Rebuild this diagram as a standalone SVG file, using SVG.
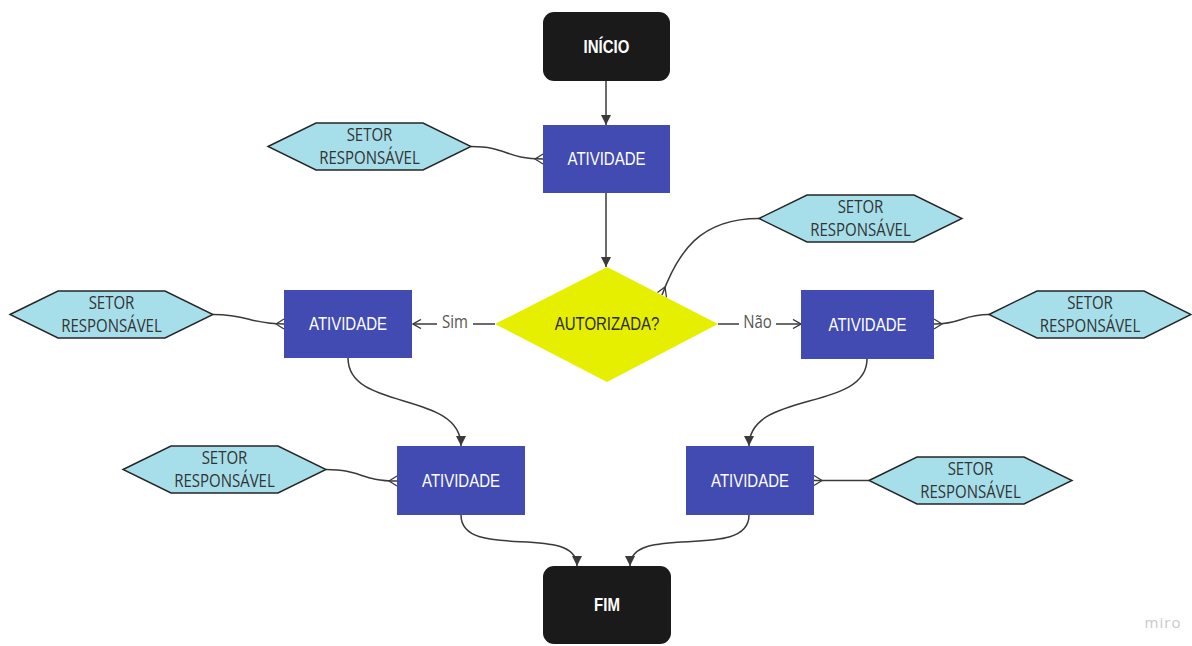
<svg xmlns="http://www.w3.org/2000/svg" width="1192" height="646" viewBox="0 0 1192 646">
  <style>
    .terminal { fill: #1a1a1a; }
    .activity { fill: #414bb2; }
    .decision { fill: #e6ef00; }
    .sector { fill: #a6dfea; stroke: #262626; stroke-width: 1.4; stroke-linejoin: miter; }
    .flow { fill: none; stroke: #3a3a3a; stroke-width: 1.5; }
    .foot { fill: none; stroke: #3a3a3a; stroke-width: 1.3; }
    .lbl-white { font-family: "Liberation Sans", Arial, sans-serif; font-size: 15px; fill: #ffffff; }
    .lbl-bold { font-family: "Liberation Sans", Arial, sans-serif; font-size: 15px; font-weight: bold; fill: #ffffff; }
    .lbl-dark { font-family: "Liberation Sans", Arial, sans-serif; font-size: 15px; fill: #2b2b2b; }
    .lbl-sector { font-family: "Open Sans", "Noto Sans", sans-serif; font-size: 15px; fill: #333333; }
    .lbl-edge { font-family: "Open Sans", "Noto Sans", sans-serif; font-size: 15px; fill: #555555; }
    text { text-anchor: middle; }
  </style>
  <defs>
    <marker id="arrow" viewBox="0 0 10 10" refX="10" refY="5" markerWidth="10" markerHeight="10" markerUnits="userSpaceOnUse" orient="auto">
      <path d="M0,0 L10,5 L0,10 Z" fill="#3a3a3a"/>
    </marker>
    <marker id="open" viewBox="0 0 10 10" refX="9" refY="5" markerWidth="10" markerHeight="10" markerUnits="userSpaceOnUse" orient="auto">
      <path d="M1,0.5 L9,5 L1,9.5" fill="none" stroke="#3a3a3a" stroke-width="1.4"/>
    </marker>
  </defs>

  <rect width="1192" height="646" fill="#ffffff"/>

  <!-- connectors -->
  <g id="connectors">
    <!-- main flow -->
    <path class="flow" d="M606,81 L606,125" marker-end="url(#arrow)"/>
    <path class="flow" d="M606,193 L606,267" marker-end="url(#arrow)"/>
    <path class="flow" d="M495,324 L473,324"/>
    <path class="flow" d="M437,324 L413,324" marker-end="url(#open)"/>
    <path class="flow" d="M718,324 L739,324"/>
    <path class="flow" d="M776,324 L801,324" marker-end="url(#open)"/>
    <path class="flow" d="M348,358 C348,412 461,390 461,446" marker-end="url(#arrow)"/>
    <path class="flow" d="M867,359 C867,412 749,390 749,446" marker-end="url(#arrow)"/>
    <path class="flow" d="M461,515 C461,562 577,522 577,566" marker-end="url(#arrow)"/>
    <path class="flow" d="M749,515 C749,562 630,522 630,566" marker-end="url(#arrow)"/>

    <!-- sector links with crow's foot at the activity end -->
    <path class="flow" d="M471,146.5 C508,146.5 505,159 543,159"/>
    <path class="foot" d="M543,154 L535,159 L543,164"/>

    <path class="flow" d="M759,218.5 C700,218.5 678,252 662,295"/>
    <path class="foot" d="M657.5,292.5 L665,287 L666.5,297.3"/>

    <path class="flow" d="M213,314.5 C250,314.5 248,324 284,324"/>
    <path class="foot" d="M284,319 L276,324 L284,329"/>

    <path class="flow" d="M934,324 C962,324 962,314.5 989,314.5"/>
    <path class="foot" d="M934,319 L942,324 L934,329"/>

    <path class="flow" d="M326,469.5 C362,469.5 360,481 397,481"/>
    <path class="foot" d="M397,476 L389,481 L397,486"/>

    <path class="flow" d="M814,480.5 L869,480.5"/>
    <path class="foot" d="M814,475.5 L822,480.5 L814,485.5"/>

    <text class="lbl-edge" transform="translate(455,327.5) scale(1,1.17)">Sim</text>
    <text class="lbl-edge" transform="translate(757.5,327.5) scale(1,1.17)">Não</text>
  </g>

  <!-- start / end -->
  <g id="inicio">
    <rect class="terminal" x="543" y="12" width="127" height="69" rx="11"/>
    <text class="lbl-bold" transform="translate(606.5,52.8) scale(1,1.17)">INÍCIO</text>
  </g>
  <g id="fim">
    <rect class="terminal" x="543" y="566" width="128" height="78" rx="11"/>
    <text class="lbl-bold" transform="translate(607,611.3) scale(1,1.17)">FIM</text>
  </g>

  <!-- activities -->
  <g id="atividade-1">
    <rect class="activity" x="543" y="125" width="127" height="68"/>
    <text class="lbl-white" transform="translate(606.5,165.3) scale(1,1.17)">ATIVIDADE</text>
  </g>
  <g id="atividade-sim">
    <rect class="activity" x="284" y="290" width="128" height="68"/>
    <text class="lbl-white" transform="translate(348,330.3) scale(1,1.17)">ATIVIDADE</text>
  </g>
  <g id="atividade-nao">
    <rect class="activity" x="801" y="290" width="133" height="69"/>
    <text class="lbl-white" transform="translate(867.5,330.8) scale(1,1.17)">ATIVIDADE</text>
  </g>
  <g id="atividade-sim-2">
    <rect class="activity" x="397" y="446" width="128" height="69"/>
    <text class="lbl-white" transform="translate(461,486.8) scale(1,1.17)">ATIVIDADE</text>
  </g>
  <g id="atividade-nao-2">
    <rect class="activity" x="686" y="446" width="128" height="69"/>
    <text class="lbl-white" transform="translate(750,486.8) scale(1,1.17)">ATIVIDADE</text>
  </g>

  <!-- decision -->
  <g id="autorizada">
    <polygon class="decision" points="607,267 718,324 607,382 495,324"/>
    <text class="lbl-dark" transform="translate(607,330.3) scale(1,1.17)">AUTORIZADA?</text>
  </g>

  <!-- responsible sectors -->
  <g id="setor-1">
    <polygon class="sector" points="268,146.5 316,123 423,123 471,146.5 423,170 316,170"/>
    <text class="lbl-sector" transform="translate(369.5,141) scale(1,1.17)">SETOR</text>
    <text class="lbl-sector" transform="translate(369.5,163.7) scale(1,1.17)">RESPONSÁVEL</text>
  </g>
  <g id="setor-2">
    <polygon class="sector" points="759,218.5 807,195 914,195 962,218.5 914,242 807,242"/>
    <text class="lbl-sector" transform="translate(860.5,213) scale(1,1.17)">SETOR</text>
    <text class="lbl-sector" transform="translate(860.5,235.7) scale(1,1.17)">RESPONSÁVEL</text>
  </g>
  <g id="setor-3">
    <polygon class="sector" points="10,314.5 58,291 165,291 213,314.5 165,338 58,338"/>
    <text class="lbl-sector" transform="translate(111.5,309) scale(1,1.17)">SETOR</text>
    <text class="lbl-sector" transform="translate(111.5,331.7) scale(1,1.17)">RESPONSÁVEL</text>
  </g>
  <g id="setor-4">
    <polygon class="sector" points="989,314.5 1037,291 1144,291 1191,314.5 1144,338 1037,338"/>
    <text class="lbl-sector" transform="translate(1090,309) scale(1,1.17)">SETOR</text>
    <text class="lbl-sector" transform="translate(1090,331.7) scale(1,1.17)">RESPONSÁVEL</text>
  </g>
  <g id="setor-5">
    <polygon class="sector" points="123,469.5 171,446 278,446 326,469.5 278,493 171,493"/>
    <text class="lbl-sector" transform="translate(224.5,464) scale(1,1.17)">SETOR</text>
    <text class="lbl-sector" transform="translate(224.5,486.7) scale(1,1.17)">RESPONSÁVEL</text>
  </g>
  <g id="setor-6">
    <polygon class="sector" points="869,480.5 917,457 1024,457 1072,480.5 1024,504 917,504"/>
    <text class="lbl-sector" transform="translate(970.5,475) scale(1,1.17)">SETOR</text>
    <text class="lbl-sector" transform="translate(970.5,497.7) scale(1,1.17)">RESPONSÁVEL</text>
  </g>

  <!-- board watermark -->
  <text x="1163" y="628" font-family="'Open Sans', 'Noto Sans', sans-serif" font-size="15" letter-spacing="1" fill="#c9c9c9">miro</text>
</svg>
